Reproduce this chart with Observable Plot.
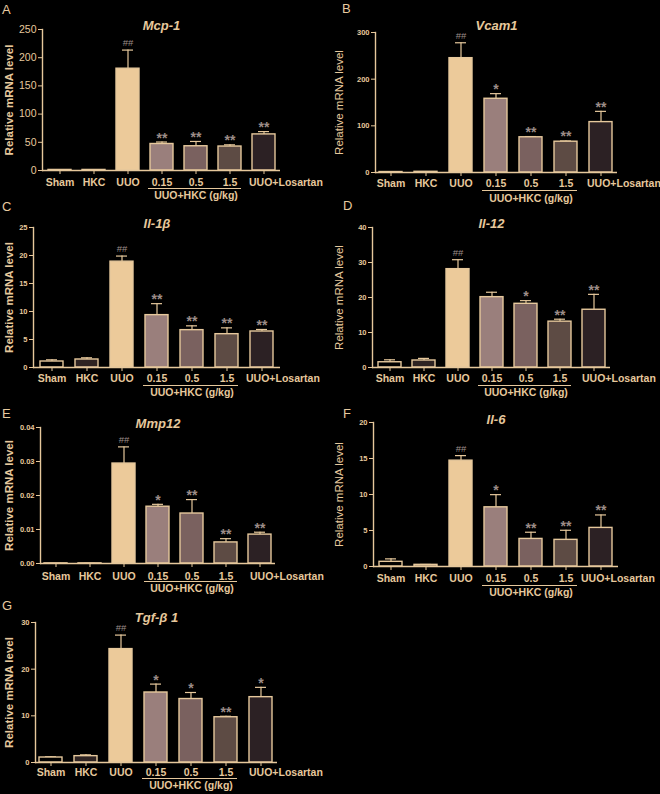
<!DOCTYPE html>
<html>
<head>
<meta charset="utf-8">
<script src="https://cdn.jsdelivr.net/npm/d3@7"></script>
<script src="https://cdn.jsdelivr.net/npm/@observablehq/plot@0.6"></script>
<style>
  html, body { margin: 0; padding: 0; background: #000; }
  #root { position: relative; width: 660px; height: 794px; background: #000; overflow: hidden; }
  .panel { position: absolute; width: 330px; height: 205px; }
  .panel svg { overflow: visible; }
  .letter { position: absolute; color: #e8cba0; font: 13px "Liberation Sans", Arial, sans-serif; }
</style>
</head>
<body>
<div id="root"></div>
<script>
// ---- data ----
const groups = ["Sham", "HKC", "UUO", "0.15", "0.5", "1.5", "UUO+Losartan"];
const fills = ["#000000", "#2e2322", "#ecca9a", "#9a7f7c", "#7a615f", "#5d4b44", "#2c2124"];

const genes = ["Mcp-1", "Vcam1", "Il-1β", "Il-12", "Mmp12", "Il-6", "Tgf-β 1"];
const letters = ["A", "B", "C", "D", "E", "F", "G"];

const mcp1Mean  = [1, 1, 180.5, 47, 43, 42.5, 64];
const mcp1Sem   = [0.5, 0.3, 33, 3.5, 8.5, 3, 5];
const mcp1Sig   = ["", "", "##", "**", "**", "**", "**"];
const mcp1Ticks = [0, 50, 100, 150, 200, 250];

const vcam1Mean  = [1, 1.5, 245, 158, 75.5, 66, 108];
const vcam1Sem   = [0.3, 0.3, 33, 11, 1.5, 1.5, 23];
const vcam1Sig   = ["", "", "##", "*", "**", "**", "**"];
const vcam1Ticks = [0, 100, 200, 300];

const il1bMean  = [1.07, 1.43, 18.9, 9.35, 6.67, 5.95, 6.43];
const il1bSem   = [0.3, 0.3, 1.0, 2.05, 0.77, 1.13, 0.36];
const il1bSig   = ["", "", "##", "**", "**", "**", "**"];
const il1bTicks = [0, 5, 10, 15, 20, 25];

const il12Mean  = [1.5, 2.0, 28.1, 20.1, 18.2, 13.1, 16.5];
const il12Sem   = [0.7, 0.6, 2.7, 1.4, 0.9, 0.7, 4.4];
const il12Sig   = ["", "", "##", "", "*", "**", "**"];
const il12Ticks = [0, 10, 20, 30, 40];

const mmp12Mean  = [0.00004, 0.00004, 0.0294, 0.0167, 0.0147, 0.0062, 0.0085];
const mmp12Sem   = [0, 0, 0.0049, 0.0007, 0.0041, 0.0011, 0.0007];
const mmp12Sig   = ["", "", "##", "*", "**", "**", "**"];
const mmp12Ticks = [0, 0.01, 0.02, 0.03, 0.04];

const il6Mean  = [0.65, 0.23, 14.7, 8.22, 3.83, 3.7, 5.36];
const il6Sem   = [0.41, 0.05, 0.7, 1.76, 0.93, 1.33, 1.8];
const il6Sig   = ["", "", "##", "*", "**", "**", "**"];
const il6Ticks = [0, 5, 10, 15, 20];

const tgfb1Mean  = [1.07, 1.36, 24.3, 15, 13.6, 9.7, 14];
const tgfb1Sem   = [0.15, 0.28, 3.0, 1.8, 1.4, 0.2, 2.1];
const tgfb1Sig   = ["", "", "##", "*", "*", "**", "*"];
const tgfb1Ticks = [0, 10, 20, 30];

const groupLabel = "UUO+HKC (g/kg)";
const yLabel = "Relative mRNA level";

// ---- layout per panel (not data) ----
const TAN = "#e6c89c";
const SIG = "#9c8c88";
const FONT = "'Liberation Sans', Arial, sans-serif";

const panels = [
  {mean: mcp1Mean,  sem: mcp1Sem,  sig: mcp1Sig,  ticks: mcp1Ticks,  left: 0,   top: 0,   ml: 42, xr: 280, yt: 29, y0: 170, tf: 10.5, tw: "normal", tdy: -4, boldY: true,  lab: [12, 18, 25], ldx: -15, fmt: d3.format("d")},
  {mean: vcam1Mean, sem: vcam1Sem, sig: vcam1Sig, ticks: vcam1Ticks, left: 330, top: 0,   ml: 45, xr: 287, yt: 32, y0: 172, tf: 7.5,  tw: "bold",   tdy: -7, boldY: false, lab: [11, 18, 26], ldx: -14, fmt: d3.format("d")},
  {mean: il1bMean,  sem: il1bSem,  sig: il1bSig,  ticks: il1bTicks,  left: 0,   top: 195, ml: 33, xr: 280, yt: 32, y0: 172, tf: 7.5,  tw: "bold",   tdy: -4, boldY: true,  lab: [11, 18, 25], ldx: -16, fmt: d3.format("d")},
  {mean: il12Mean,  sem: il12Sem,  sig: il12Sig,  ticks: il12Ticks,  left: 330, top: 195, ml: 42, xr: 280, yt: 32, y0: 172, tf: 7.5,  tw: "bold",   tdy: -4, boldY: false, lab: [11, 18, 25], ldx: -12, fmt: d3.format("d")},
  {mean: mmp12Mean, sem: mmp12Sem, sig: mmp12Sig, ticks: mmp12Ticks, left: 0,   top: 395, ml: 40, xr: 275, yt: 32, y0: 168, tf: 7.5,  tw: "bold",   tdy: -4, boldY: true,  lab: [13, 18, 25], ldx: -10, fmt: d3.format(".2f")},
  {mean: il6Mean,   sem: il6Sem,   sig: il6Sig,   ticks: il6Ticks,   left: 330, top: 395, ml: 43, xr: 288, yt: 27, y0: 171, tf: 7.5,  tw: "bold",   tdy: -3, boldY: false, lab: [12, 19, 26], ldx: -20, fmt: d3.format("d")},
  {mean: tgfb1Mean, sem: tgfb1Sem, sig: tgfb1Sig, ticks: tgfb1Ticks, left: 0,   top: 595, ml: 35, xr: 277, yt: 27, y0: 167, tf: 7.5,  tw: "bold",   tdy: -5, boldY: true,  lab: [10, 16, 23], ldx: -12, fmt: d3.format("d")}
];
const letterPos = [[2, 2], [342, 1], [2, 199], [343, 198], [2, 406], [343, 406], [2, 598]];

const root = document.getElementById("root");
const H = 205;
const LAST = groups[groups.length - 1];

panels.forEach((p, k) => {
  const data = groups.map((g, i) => ({g, v: p.mean[i], e: p.mean[i] + p.sem[i], s: p.sig[i]}));
  const ymax = p.ticks[p.ticks.length - 1];
  const chart = Plot.plot({
    width: 330,
    height: H,
    marginLeft: p.ml,
    marginRight: 330 - p.xr,
    marginTop: p.yt,
    marginBottom: H - p.y0,
    style: {background: "transparent", color: TAN, fontFamily: FONT, overflow: "visible"},
    x: {domain: groups, paddingInner: 0.33, paddingOuter: 0.12, axis: null},
    y: {domain: [0, ymax], axis: null},
    color: {domain: groups, range: fills},
    marks: [
      Plot.ruleX(data, {x: "g", y1: "v", y2: "e", stroke: TAN, strokeWidth: 1.2}),
      Plot.tickY(data, {x: "g", y: "e", stroke: TAN, strokeWidth: 1.2, insetLeft: 6, insetRight: 6}),
      Plot.barY(data, {x: "g", y: "v", fill: "g", stroke: TAN, strokeWidth: 1.4}),
      Plot.text(data.filter(d => d.s === "##"), {x: "g", y: "e", text: "s", dy: -7, fill: SIG, fontSize: 9.5, lineAnchor: "middle"}),
      Plot.text(data.filter(d => d.s.startsWith("*")), {x: "g", y: "e", text: "s", dy: -4, fill: SIG, fontSize: 14, fontWeight: "bold", letterSpacing: 1, lineAnchor: "middle"}),
      Plot.ruleY([0], {stroke: TAN, strokeWidth: 1.4}),
      Plot.frame({anchor: "left", stroke: TAN, strokeWidth: 1.4}),
      Plot.axisY({ticks: p.ticks, tickSize: 4, tickPadding: 2, tickFormat: p.fmt, fontSize: p.tf, fontWeight: p.tw, stroke: TAN, fill: TAN, label: null}),
      Plot.axisX({tickSize: 4, tickFormat: () => "", stroke: TAN, label: null}),
      Plot.text(data.filter(d => d.g !== LAST), {x: "g", y: () => 0, text: "g", dy: p.lab[0], fontSize: 10.5, fontWeight: "bold", fill: TAN, lineAnchor: "middle"}),
      Plot.text(data.filter(d => d.g === LAST), {x: "g", y: () => 0, text: "g", dy: p.lab[0], dx: p.ldx, textAnchor: "start", fontSize: 10.5, fontWeight: "bold", fill: TAN, lineAnchor: "middle"}),
      Plot.ruleY([0], {x1: () => "0.15", x2: () => "1.5", dy: p.lab[1], insetLeft: -2, stroke: TAN, strokeWidth: 1.2}),
      Plot.text([groupLabel], {x: () => "0.5", y: () => 0, text: d => d, dy: p.lab[2], fontSize: 10.5, fontWeight: "bold", fill: TAN, lineAnchor: "middle"}),
      Plot.text([genes[k]], {frameAnchor: "top", text: d => d, dy: p.tdy, fontSize: 13, fontWeight: "bold", fontStyle: "italic", fill: TAN, lineAnchor: "middle"}),
      Plot.text([yLabel], {frameAnchor: "left", text: d => d, rotate: -90, dx: -(p.ml - 9), fontSize: 11.5, fontWeight: p.boldY ? "bold" : "normal", fill: TAN, lineAnchor: "middle", textAnchor: "middle"})
    ]
  });
  const div = document.createElement("div");
  div.className = "panel";
  div.style.left = p.left + "px";
  div.style.top = p.top + "px";
  div.appendChild(chart);
  root.appendChild(div);
});

letters.forEach((l, i) => {
  const s = document.createElement("div");
  s.className = "letter";
  s.textContent = l;
  s.style.left = letterPos[i][0] + "px";
  s.style.top = letterPos[i][1] + "px";
  root.appendChild(s);
});
</script>
</body>
</html>
